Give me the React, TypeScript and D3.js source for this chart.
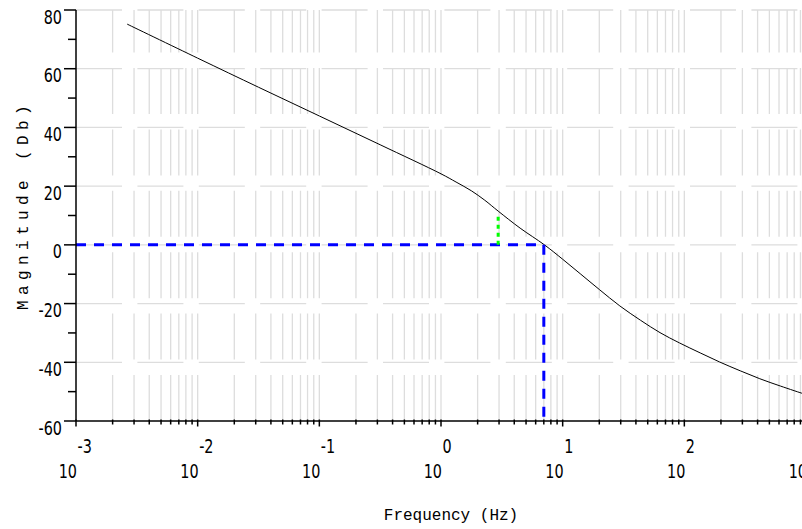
import React from 'react';
import * as d3 from 'd3';

// open-loop magnitude
const freqs = [0.00263, 0.01, 0.0316, 0.1, 0.316, 1, 1.33, 1.78, 2.29, 2.95, 4.47, 7.08, 10, 14.1, 20, 29.5, 43.7, 63.1, 91.2, 135, 195, 288, 417, 617, 933];
const magnitudes = [75.2, 63.6, 53.7, 43.9, 34.1, 24.2, 21.4, 18.4, 15.2, 11.5, 5.7, 0.0, -4.9, -10.0, -15.2, -20.8, -25.7, -29.9, -33.4, -36.8, -39.9, -42.9, -45.6, -48.1, -50.6];

const crossoverFreq = 7.0;
const markerFreq = 2.95;
const markerMag = 10.8;

const yMajorTicks = [-60, -40, -20, 0, 20, 40, 60, 80];
const yMinorTicks = [-50, -30, -10, 10, 30, 50, 70];
const decadeExponents = [-3, -2, -1, 0, 1, 2, 3];

const width = 802;
const height = 529;
const left = 76;
const top = 10;
const bottom = 421;
const right = 806;

const gridColor = '#dddddd';
const gridDash = '46 15.4';
const labelFont = 'DejaVu Sans';

export default function App() {
  const x = d3.scaleLog().domain([1e-3, 1e3]).range([left, right]);
  const y = d3.scaleLinear().domain([-60, 80]).range([bottom, top]);

  const xGrid = x.ticks();
  const line = d3.line<number>()
    .x((d, i) => x(freqs[i]))
    .y(d => y(d))
    .curve(d3.curveCatmullRom);

  const tickLabel = (tx: number, ty: number, txt: string, anchor: string, key: string) => (
    <text key={key} transform={`translate(${tx},${ty}) scale(0.72,1)`} textAnchor={anchor}
      fontFamily={labelFont} fontSize={20} fill="#000">{txt}</text>
  );

  return (
    <svg width={width} height={height} style={{ position: 'absolute', left: 0, top: 0, background: '#fff' }}>
      {/* grid */}
      <g stroke={gridColor} strokeWidth={1.3} fill="none">
        {yMajorTicks.filter(t => t !== -60).map(t => (
          <line key={'h' + t} x1={left} x2={right} y1={y(t)} y2={y(t)} strokeDasharray={gridDash} />
        ))}
        {xGrid.filter(f => f > 1e-3).map(f => (
          <line key={'v' + f} x1={x(f)} x2={x(f)} y1={bottom} y2={top} strokeDasharray={gridDash} />
        ))}
      </g>

      {/* curve */}
      <path d={line(magnitudes) || ''} fill="none" stroke="#000" strokeWidth={1} />

      {/* crossover markers */}
      <line x1={left} x2={x(crossoverFreq)} y1={y(0)} y2={y(0)} stroke="#0000ff" strokeWidth={3} strokeDasharray="10 8" />
      <line x1={x(crossoverFreq)} x2={x(crossoverFreq)} y1={y(0)} y2={bottom} stroke="#0000ff" strokeWidth={3} strokeDasharray="10 8" />
      <line x1={x(markerFreq)} x2={x(markerFreq)} y1={y(0)} y2={y(markerMag)} stroke="#00ff00" strokeWidth={3} strokeDasharray="4 4" />

      {/* axes */}
      <g stroke="#000" strokeWidth={1.5}>
        <line x1={left} x2={left} y1={top} y2={bottom} />
        <line x1={left} x2={right} y1={bottom} y2={bottom} />
        {yMajorTicks.map(t => <line key={'ym' + t} x1={left - 12} x2={left} y1={y(t)} y2={y(t)} />)}
        {yMinorTicks.map(t => <line key={'yn' + t} x1={left - 8} x2={left} y1={y(t)} y2={y(t)} />)}
        {xGrid.map(f => {
          const major = decadeExponents.some(e => Math.abs(Math.log10(f) - e) < 1e-6);
          return <line key={'xt' + f} x1={x(f)} x2={x(f)} y1={bottom - 1.5} y2={bottom + (major ? 5.5 : 3.5)} />;
        })}
      </g>

      {/* tick labels */}
      {yMajorTicks.map(t => tickLabel(62, y(t) + 13.5, String(t), 'end', 'yl' + t))}
      {decadeExponents.map(e => (
        <g key={'xl' + e}>
          {tickLabel(x(Math.pow(10, e)) + 1, 478, '10', 'end', 'b' + e)}
          {tickLabel(x(Math.pow(10, e)) + 1.5, 453, String(e), 'start', 'e' + e)}
        </g>
      ))}

      {/* axis titles */}
      <text x={451} y={520} textAnchor="middle" fontFamily="Liberation Mono" fontSize={16} fill="#000">Frequency (Hz)</text>
      <text transform="translate(28,205) rotate(-90)" textAnchor="middle" fontFamily="Liberation Mono"
        fontSize={16} letterSpacing={5.4} fill="#000">Magnitude (Db)</text>
    </svg>
  );
}
